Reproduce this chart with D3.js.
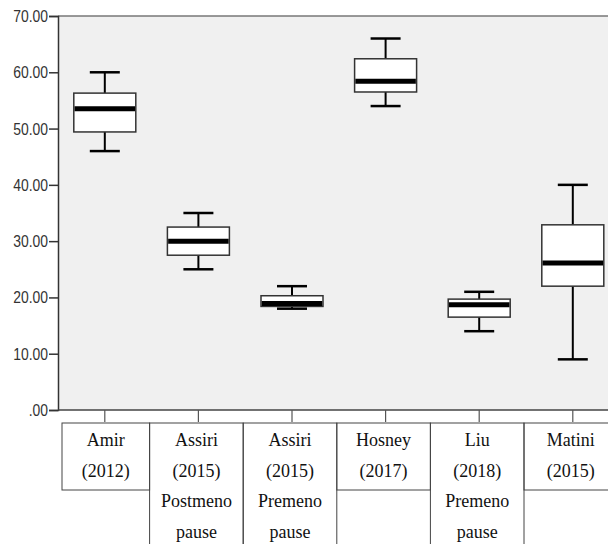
<!DOCTYPE html>
<html>
<head>
<meta charset="utf-8">
<script src="https://cdn.jsdelivr.net/npm/d3@7"></script>
<style>
  body { margin: 0; background: #fff; }
</style>
</head>
<body>
<div id="chart"></div>
<script>
// study groups and their label lines
const categories = ["Amir", "AssiriPost", "AssiriPre", "Hosney", "Liu", "Matini"];
const labelLines = [
    ["Amir", "(2012)"],
    ["Assiri", "(2015)", "Postmeno", "pause"],
    ["Assiri", "(2015)", "Premeno", "pause"],
    ["Hosney", "(2017)"],
    ["Liu", "(2018)", "Premeno", "pause"],
    ["Matini", "(2015)"]
];

// box plot statistics
const mins    = [46.0, 25.0, 18.0, 54.0, 14.0, 9.0];
const q1s     = [49.4, 27.5, 18.4, 56.5, 16.5, 22.0];
const medians = [53.5, 30.0, 18.9, 58.4, 18.7, 26.1];
const q3s     = [56.3, 32.5, 20.3, 62.4, 19.7, 32.9];
const maxs    = [60.0, 35.0, 22.0, 66.0, 21.0, 40.0];

const yTicks = [0, 10, 20, 30, 40, 50, 60, 70];

const width = 608, height = 544;
const plotLeft = 58, plotTop = 16, plotBottom = 410;

const svg = d3.select('#chart').append('svg')
    .attr('width', width)
    .attr('height', height);

const x = d3.scaleBand().domain(categories).range([plotLeft, plotLeft + 6 * 93.6]);
const y = d3.scaleLinear().domain([0, 70]).range([plotBottom, plotTop]);

// plot background
svg.append('rect')
    .attr('x', plotLeft)
    .attr('y', y(70))
    .attr('width', width - plotLeft)
    .attr('height', y(0) - y(70))
    .attr('fill', '#f0f0f0');

// top frame line
svg.append('line')
    .attr('x1', plotLeft).attr('x2', width)
    .attr('y1', y(70)).attr('y2', y(70))
    .attr('stroke', '#777').attr('stroke-width', 1.5);

// y axis
const yAxis = svg.append('g')
    .attr('transform', `translate(${plotLeft},0)`)
    .call(d3.axisLeft(y).tickValues(yTicks).tickSize(9).tickPadding(2).tickFormat(''));
yAxis.select('.domain').attr('stroke', '#333').attr('stroke-width', 1.5);
yAxis.selectAll('.tick line').attr('stroke', '#333').attr('stroke-width', 1.5);

// tick labels, horizontally squeezed to look like a narrow face
svg.append('g').selectAll('text').data(yTicks).enter().append('text')
    .attr('transform', d => `translate(${plotLeft - 10},${y(d)}) scale(0.82,1)`)
    .attr('dy', '0.35em')
    .attr('text-anchor', 'end')
    .attr('font-family', 'Liberation Sans, Arial, sans-serif')
    .attr('font-size', 17)
    .attr('fill', '#333')
    .text(d => d === 0 ? '.00' : d3.format('.2f')(d));

// x axis
const xAxis = svg.append('g')
    .attr('transform', `translate(0,${plotBottom})`)
    .call(d3.axisBottom(x).tickSize(12).tickFormat(''));
xAxis.select('.domain').attr('d', `M${plotLeft},0H${width}`).attr('stroke', '#444').attr('stroke-width', 1.5);
xAxis.selectAll('.tick line').attr('stroke', '#555').attr('stroke-width', 1.2);

// boxes
const boxW = 62, capW = 30;
const rows = categories.map((c, i) => ({
    cat: c, min: mins[i], q1: q1s[i], med: medians[i], q3: q3s[i], max: maxs[i]
}));

const g = svg.append('g');
const cx = d => x(d.cat) + x.bandwidth() / 2;

// whiskers
g.selectAll('.whisker-up').data(rows).enter().append('line')
    .attr('x1', cx).attr('x2', cx)
    .attr('y1', d => y(d.max)).attr('y2', d => y(d.q3))
    .attr('stroke', '#000').attr('stroke-width', 2);
g.selectAll('.whisker-down').data(rows).enter().append('line')
    .attr('x1', cx).attr('x2', cx)
    .attr('y1', d => y(d.q1)).attr('y2', d => y(d.min))
    .attr('stroke', '#000').attr('stroke-width', 2);
['max', 'min'].forEach(k => {
    g.selectAll('.cap-' + k).data(rows).enter().append('line')
        .attr('x1', d => cx(d) - capW / 2).attr('x2', d => cx(d) + capW / 2)
        .attr('y1', d => y(d[k])).attr('y2', d => y(d[k]))
        .attr('stroke', '#000').attr('stroke-width', 2.5);
});

g.selectAll('.box').data(rows).enter().append('rect')
    .attr('x', d => cx(d) - boxW / 2)
    .attr('y', d => y(d.q3))
    .attr('width', boxW)
    .attr('height', d => y(d.q1) - y(d.q3))
    .attr('fill', '#fff')
    .attr('stroke', '#333')
    .attr('stroke-width', 1.5);

g.selectAll('.median').data(rows).enter().append('line')
    .attr('x1', d => cx(d) - boxW / 2 + 0.75).attr('x2', d => cx(d) + boxW / 2 - 0.75)
    .attr('y1', d => y(d.med)).attr('y2', d => y(d.med))
    .attr('stroke', '#000').attr('stroke-width', 5);

// label table below the axis
const tableTop = 423, lineH = 30.7;
const cells = categories.map((c, i) => {
    const left = i === 0 ? 62 : x(c) - 2;
    const right = x(c) + x.bandwidth() - 2;
    return { cat: c, left, right, lines: labelLines[i] };
});

const table = svg.append('g');
table.selectAll('rect').data(cells).enter().append('rect')
    .attr('x', d => d.left)
    .attr('y', tableTop)
    .attr('width', d => d.right - d.left)
    .attr('height', d => d.lines.length > 2 ? 140 : 67)
    .attr('fill', 'none')
    .attr('stroke', '#444')
    .attr('stroke-width', 1);

cells.forEach(cell => {
    table.selectAll(null).data(cell.lines).enter().append('text')
        .attr('x', (cell.left + cell.right) / 2)
        .attr('y', (d, i) => 446 + i * lineH)
        .attr('text-anchor', 'middle')
        .attr('font-family', 'Liberation Serif, Times New Roman, serif')
        .attr('font-size', 18)
        .attr('fill', '#111')
        .text(d => d);
});
</script>
</body>
</html>
